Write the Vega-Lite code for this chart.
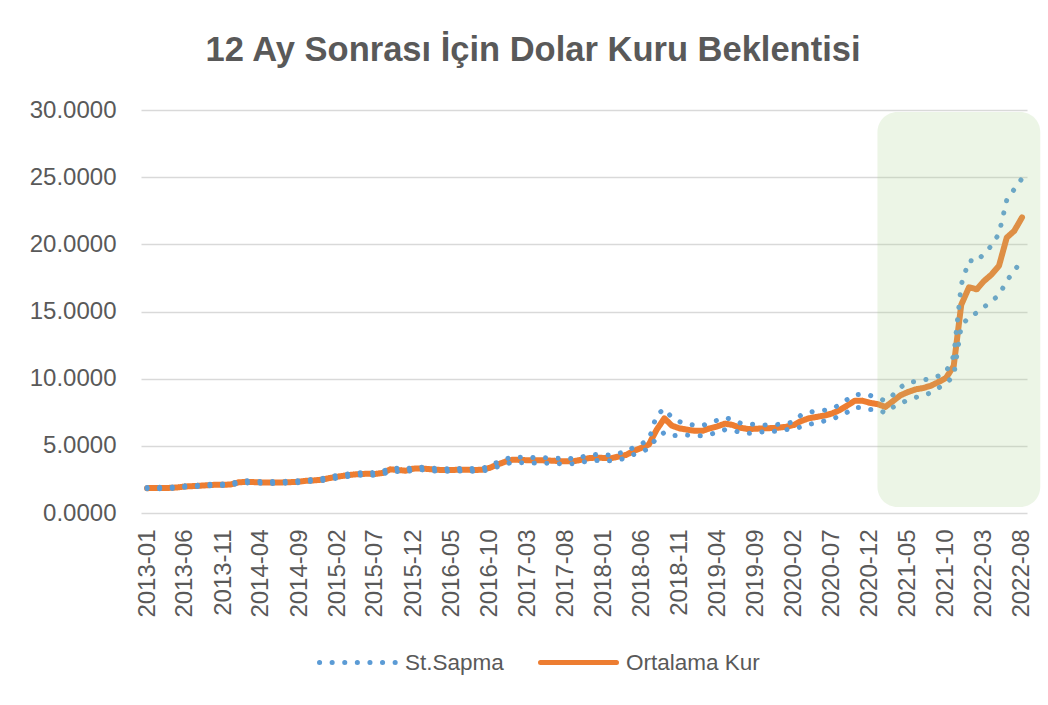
{
  "$schema": "https://vega.github.io/schema/vega-lite/v6.json",
  "width": 886,
  "height": 403,
  "autosize": "none",
  "padding": {"left": 141, "top": 110, "right": 21, "bottom": 192},
  "background": "white",
  "title": {
    "text": "12 Ay Sonrası İçin Dolar Kuru Beklentisi",
    "font": "Liberation Sans",
    "fontSize": 34.5,
    "fontWeight": "bold",
    "color": "#595959",
    "anchor": "middle",
    "dx": -51,
    "offset": 30
  },
  "data": {
    "values": [
      {"d": "2013-01", "ort": 1.85, "ust": 1.90, "alt": 1.80},
      {"d": "2013-02", "ort": 1.86, "ust": 1.91, "alt": 1.81},
      {"d": "2013-03", "ort": 1.86, "ust": 1.91, "alt": 1.81},
      {"d": "2013-04", "ort": 1.87, "ust": 1.92, "alt": 1.82},
      {"d": "2013-05", "ort": 1.90, "ust": 1.95, "alt": 1.85},
      {"d": "2013-06", "ort": 1.97, "ust": 2.02, "alt": 1.92},
      {"d": "2013-07", "ort": 2.00, "ust": 2.06, "alt": 1.94},
      {"d": "2013-08", "ort": 2.03, "ust": 2.08, "alt": 1.98},
      {"d": "2013-09", "ort": 2.07, "ust": 2.13, "alt": 2.01},
      {"d": "2013-10", "ort": 2.10, "ust": 2.15, "alt": 2.05},
      {"d": "2013-11", "ort": 2.10, "ust": 2.15, "alt": 2.05},
      {"d": "2013-12", "ort": 2.12, "ust": 2.17, "alt": 2.07},
      {"d": "2014-01", "ort": 2.28, "ust": 2.35, "alt": 2.21},
      {"d": "2014-02", "ort": 2.32, "ust": 2.40, "alt": 2.24},
      {"d": "2014-03", "ort": 2.30, "ust": 2.37, "alt": 2.23},
      {"d": "2014-04", "ort": 2.28, "ust": 2.35, "alt": 2.21},
      {"d": "2014-05", "ort": 2.27, "ust": 2.34, "alt": 2.20},
      {"d": "2014-06", "ort": 2.27, "ust": 2.34, "alt": 2.20},
      {"d": "2014-07", "ort": 2.28, "ust": 2.35, "alt": 2.21},
      {"d": "2014-08", "ort": 2.30, "ust": 2.37, "alt": 2.23},
      {"d": "2014-09", "ort": 2.33, "ust": 2.40, "alt": 2.26},
      {"d": "2014-10", "ort": 2.40, "ust": 2.47, "alt": 2.33},
      {"d": "2014-11", "ort": 2.43, "ust": 2.50, "alt": 2.36},
      {"d": "2014-12", "ort": 2.48, "ust": 2.56, "alt": 2.40},
      {"d": "2015-01", "ort": 2.60, "ust": 2.70, "alt": 2.50},
      {"d": "2015-02", "ort": 2.70, "ust": 2.80, "alt": 2.60},
      {"d": "2015-03", "ort": 2.78, "ust": 2.88, "alt": 2.68},
      {"d": "2015-04", "ort": 2.85, "ust": 2.95, "alt": 2.75},
      {"d": "2015-05", "ort": 2.90, "ust": 3.00, "alt": 2.80},
      {"d": "2015-06", "ort": 2.92, "ust": 3.02, "alt": 2.82},
      {"d": "2015-07", "ort": 2.90, "ust": 3.00, "alt": 2.80},
      {"d": "2015-08", "ort": 2.98, "ust": 3.08, "alt": 2.88},
      {"d": "2015-09", "ort": 3.25, "ust": 3.37, "alt": 3.13},
      {"d": "2015-10", "ort": 3.20, "ust": 3.32, "alt": 3.08},
      {"d": "2015-11", "ort": 3.15, "ust": 3.26, "alt": 3.04},
      {"d": "2015-12", "ort": 3.30, "ust": 3.40, "alt": 3.20},
      {"d": "2016-01", "ort": 3.32, "ust": 3.42, "alt": 3.22},
      {"d": "2016-02", "ort": 3.27, "ust": 3.37, "alt": 3.17},
      {"d": "2016-03", "ort": 3.22, "ust": 3.32, "alt": 3.12},
      {"d": "2016-04", "ort": 3.20, "ust": 3.30, "alt": 3.10},
      {"d": "2016-05", "ort": 3.20, "ust": 3.30, "alt": 3.10},
      {"d": "2016-06", "ort": 3.22, "ust": 3.32, "alt": 3.12},
      {"d": "2016-07", "ort": 3.22, "ust": 3.32, "alt": 3.12},
      {"d": "2016-08", "ort": 3.20, "ust": 3.30, "alt": 3.10},
      {"d": "2016-09", "ort": 3.22, "ust": 3.33, "alt": 3.11},
      {"d": "2016-10", "ort": 3.35, "ust": 3.48, "alt": 3.22},
      {"d": "2016-11", "ort": 3.60, "ust": 3.77, "alt": 3.43},
      {"d": "2016-12", "ort": 3.80, "ust": 3.98, "alt": 3.62},
      {"d": "2017-01", "ort": 3.97, "ust": 4.17, "alt": 3.77},
      {"d": "2017-02", "ort": 3.95, "ust": 4.15, "alt": 3.75},
      {"d": "2017-03", "ort": 3.93, "ust": 4.13, "alt": 3.73},
      {"d": "2017-04", "ort": 3.93, "ust": 4.13, "alt": 3.73},
      {"d": "2017-05", "ort": 3.92, "ust": 4.12, "alt": 3.72},
      {"d": "2017-06", "ort": 3.90, "ust": 4.10, "alt": 3.70},
      {"d": "2017-07", "ort": 3.87, "ust": 4.07, "alt": 3.67},
      {"d": "2017-08", "ort": 3.85, "ust": 4.05, "alt": 3.65},
      {"d": "2017-09", "ort": 3.85, "ust": 4.05, "alt": 3.67},
      {"d": "2017-10", "ort": 3.95, "ust": 4.15, "alt": 3.77},
      {"d": "2017-11", "ort": 4.08, "ust": 4.30, "alt": 3.86},
      {"d": "2017-12", "ort": 4.12, "ust": 4.35, "alt": 3.90},
      {"d": "2018-01", "ort": 4.10, "ust": 4.35, "alt": 3.90},
      {"d": "2018-02", "ort": 4.08, "ust": 4.30, "alt": 3.88},
      {"d": "2018-03", "ort": 4.20, "ust": 4.45, "alt": 3.95},
      {"d": "2018-04", "ort": 4.32, "ust": 4.55, "alt": 4.10},
      {"d": "2018-05", "ort": 4.62, "ust": 4.90, "alt": 4.35},
      {"d": "2018-06", "ort": 4.85, "ust": 5.15, "alt": 4.55},
      {"d": "2018-07", "ort": 5.10, "ust": 5.45, "alt": 4.80},
      {"d": "2018-08", "ort": 6.20, "ust": 7.30, "alt": 5.60},
      {"d": "2018-09", "ort": 7.05, "ust": 7.75, "alt": 6.00},
      {"d": "2018-10", "ort": 6.50, "ust": 7.10, "alt": 5.75},
      {"d": "2018-11", "ort": 6.30, "ust": 6.80, "alt": 5.80},
      {"d": "2018-12", "ort": 6.20, "ust": 6.60, "alt": 5.80},
      {"d": "2019-01", "ort": 6.12, "ust": 6.55, "alt": 5.75},
      {"d": "2019-02", "ort": 6.12, "ust": 6.50, "alt": 5.75},
      {"d": "2019-03", "ort": 6.30, "ust": 6.75, "alt": 5.85},
      {"d": "2019-04", "ort": 6.45, "ust": 6.90, "alt": 6.00},
      {"d": "2019-05", "ort": 6.65, "ust": 7.10, "alt": 6.20},
      {"d": "2019-06", "ort": 6.55, "ust": 6.95, "alt": 6.15},
      {"d": "2019-07", "ort": 6.35, "ust": 6.70, "alt": 6.00},
      {"d": "2019-08", "ort": 6.25, "ust": 6.60, "alt": 5.92},
      {"d": "2019-09", "ort": 6.27, "ust": 6.60, "alt": 5.97},
      {"d": "2019-10", "ort": 6.30, "ust": 6.55, "alt": 6.05},
      {"d": "2019-11", "ort": 6.32, "ust": 6.57, "alt": 6.07},
      {"d": "2019-12", "ort": 6.35, "ust": 6.60, "alt": 6.10},
      {"d": "2020-01", "ort": 6.42, "ust": 6.65, "alt": 6.20},
      {"d": "2020-02", "ort": 6.55, "ust": 6.80, "alt": 6.30},
      {"d": "2020-03", "ort": 6.85, "ust": 7.30, "alt": 6.40},
      {"d": "2020-04", "ort": 7.05, "ust": 7.50, "alt": 6.60},
      {"d": "2020-05", "ort": 7.15, "ust": 7.60, "alt": 6.70},
      {"d": "2020-06", "ort": 7.25, "ust": 7.65, "alt": 6.85},
      {"d": "2020-07", "ort": 7.40, "ust": 7.75, "alt": 7.00},
      {"d": "2020-08", "ort": 7.65, "ust": 8.05, "alt": 7.20},
      {"d": "2020-09", "ort": 8.00, "ust": 8.45, "alt": 7.50},
      {"d": "2020-10", "ort": 8.35, "ust": 8.80, "alt": 7.85},
      {"d": "2020-11", "ort": 8.35, "ust": 8.85, "alt": 7.85},
      {"d": "2020-12", "ort": 8.20, "ust": 8.75, "alt": 7.70},
      {"d": "2021-01", "ort": 8.10, "ust": 8.55, "alt": 7.70},
      {"d": "2021-02", "ort": 7.90, "ust": 8.35, "alt": 7.45},
      {"d": "2021-03", "ort": 8.30, "ust": 8.75, "alt": 7.85},
      {"d": "2021-04", "ort": 8.75, "ust": 9.35, "alt": 8.15},
      {"d": "2021-05", "ort": 9.00, "ust": 9.70, "alt": 8.40},
      {"d": "2021-06", "ort": 9.20, "ust": 9.80, "alt": 8.60},
      {"d": "2021-07", "ort": 9.30, "ust": 9.90, "alt": 8.75},
      {"d": "2021-08", "ort": 9.47, "ust": 10.00, "alt": 8.95},
      {"d": "2021-09", "ort": 9.75, "ust": 10.20, "alt": 9.30},
      {"d": "2021-10", "ort": 10.05, "ust": 10.50, "alt": 9.65},
      {"d": "2021-11", "ort": 10.95, "ust": 11.70, "alt": 10.20},
      {"d": "2021-12", "ort": 15.50, "ust": 17.00, "alt": 13.90},
      {"d": "2022-01", "ort": 16.80, "ust": 18.80, "alt": 14.60},
      {"d": "2022-02", "ort": 16.65, "ust": 18.70, "alt": 14.90},
      {"d": "2022-03", "ort": 17.25, "ust": 19.30, "alt": 15.30},
      {"d": "2022-04", "ort": 17.75, "ust": 19.90, "alt": 15.80},
      {"d": "2022-05", "ort": 18.40, "ust": 20.80, "alt": 16.20},
      {"d": "2022-06", "ort": 20.50, "ust": 23.30, "alt": 17.30},
      {"d": "2022-07", "ort": 21.00, "ust": 24.10, "alt": 18.00},
      {"d": "2022-08", "ort": 22.00, "ust": 24.90, "alt": 18.90}
    ]
  },
  "layer": [
    {
      "mark": {"type": "line", "strokeWidth": 6, "strokeCap": "round", "strokeJoin": "round"},
      "encoding": {
        "x": {
          "field": "d",
          "type": "temporal",
          "scale": {
            "type": "utc",
            "domain": [
              {"year": 2012, "month": 12, "date": 8, "utc": true},
              {"year": 2022, "month": 8, "date": 21, "utc": true}
            ]
          },
          "axis": {
            "title": null,
            "grid": false,
            "domain": false,
            "ticks": false,
            "tickCount": 60,
            "labelAngle": -90,
            "labelPadding": 16,
            "labelOverlap": false,
            "labelFlush": false,
            "labelBound": false,
            "labelExpr": "utcFormat(datum.value, '%Y-%m')",
            "values": [
              {"year": 2013, "month": 1, "utc": true},
              {"year": 2013, "month": 6, "utc": true},
              {"year": 2013, "month": 11, "utc": true},
              {"year": 2014, "month": 4, "utc": true},
              {"year": 2014, "month": 9, "utc": true},
              {"year": 2015, "month": 2, "utc": true},
              {"year": 2015, "month": 7, "utc": true},
              {"year": 2015, "month": 12, "utc": true},
              {"year": 2016, "month": 5, "utc": true},
              {"year": 2016, "month": 10, "utc": true},
              {"year": 2017, "month": 3, "utc": true},
              {"year": 2017, "month": 8, "utc": true},
              {"year": 2018, "month": 1, "utc": true},
              {"year": 2018, "month": 6, "utc": true},
              {"year": 2018, "month": 11, "utc": true},
              {"year": 2019, "month": 4, "utc": true},
              {"year": 2019, "month": 9, "utc": true},
              {"year": 2020, "month": 2, "utc": true},
              {"year": 2020, "month": 7, "utc": true},
              {"year": 2020, "month": 12, "utc": true},
              {"year": 2021, "month": 5, "utc": true},
              {"year": 2021, "month": 10, "utc": true},
              {"year": 2022, "month": 3, "utc": true},
              {"year": 2022, "month": 8, "utc": true}
            ]
          }
        },
        "y": {
          "field": "ort",
          "type": "quantitative",
          "scale": {"domain": [0, 30], "nice": false, "zero": true},
          "axis": {
            "title": null,
            "values": [0, 5, 10, 15, 20, 25, 30],
            "format": ".4f",
            "grid": true,
            "gridColor": "#D9D9D9",
            "gridWidth": 1.5,
            "domain": false,
            "ticks": false,
            "labelPadding": 25
          }
        },
        "color": {
          "datum": "Ortalama Kur",
          "type": "nominal",
          "scale": {"domain": ["St.Sapma", "Ortalama Kur"], "range": ["#5B9BD5", "#ED7D31"]},
          "legend": {"title": null, "encode": {"symbols": {"update": {"strokeCap": {"value": "round"}}}}}
        },
        "strokeDash": {
          "datum": "Ortalama Kur",
          "type": "nominal",
          "scale": {"domain": ["St.Sapma", "Ortalama Kur"], "range": [[0.1, 12.5], [1, 0]]},
          "legend": {"title": null, "encode": {"symbols": {"update": {"strokeCap": {"value": "round"}}}}}
        }
      }
    },
    {
      "transform": [{"fold": ["ust", "alt"], "as": ["bant", "v"]}],
      "mark": {"type": "line", "strokeWidth": 5, "strokeCap": "round", "strokeJoin": "round"},
      "encoding": {
        "x": {"field": "d", "type": "temporal"},
        "y": {"field": "v", "type": "quantitative"},
        "detail": {"field": "bant", "type": "nominal"},
        "color": {"datum": "St.Sapma", "type": "nominal"},
        "strokeDash": {"datum": "St.Sapma", "type": "nominal"}
      }
    },
    {
      "data": {"values": [{}]},
      "mark": {"type": "rect", "cornerRadius": 20, "fill": "#A9D18E", "fillOpacity": 0.22},
      "encoding": {
        "x": {"datum": {"year": 2020, "month": 12, "date": 31, "utc": true}, "type": "temporal"},
        "x2": {"datum": {"year": 2022, "month": 10, "date": 13, "utc": true}},
        "y": {"datum": 29.85, "type": "quantitative"},
        "y2": {"datum": 0.45}
      }
    }
  ],
  "config": {
    "view": {"stroke": null},
    "axis": {
      "labelFont": "Liberation Sans",
      "labelFontSize": 24,
      "labelColor": "#595959",
      "labelOverlap": false
    },
    "axisX": {"labelOverlap": false, "labelSeparation": 0},
    "legend": {
      "orient": "none",
      "legendX": 176,
      "legendY": 512,
      "direction": "horizontal",
      "symbolType": "stroke",
      "symbolSize": 5776,
      "symbolStrokeWidth": 5,
      "labelFont": "Liberation Sans",
      "labelFontSize": 22.5,
      "labelColor": "#595959",
      "labelOffset": 7,
      "columnPadding": 26
    }
  }
}
